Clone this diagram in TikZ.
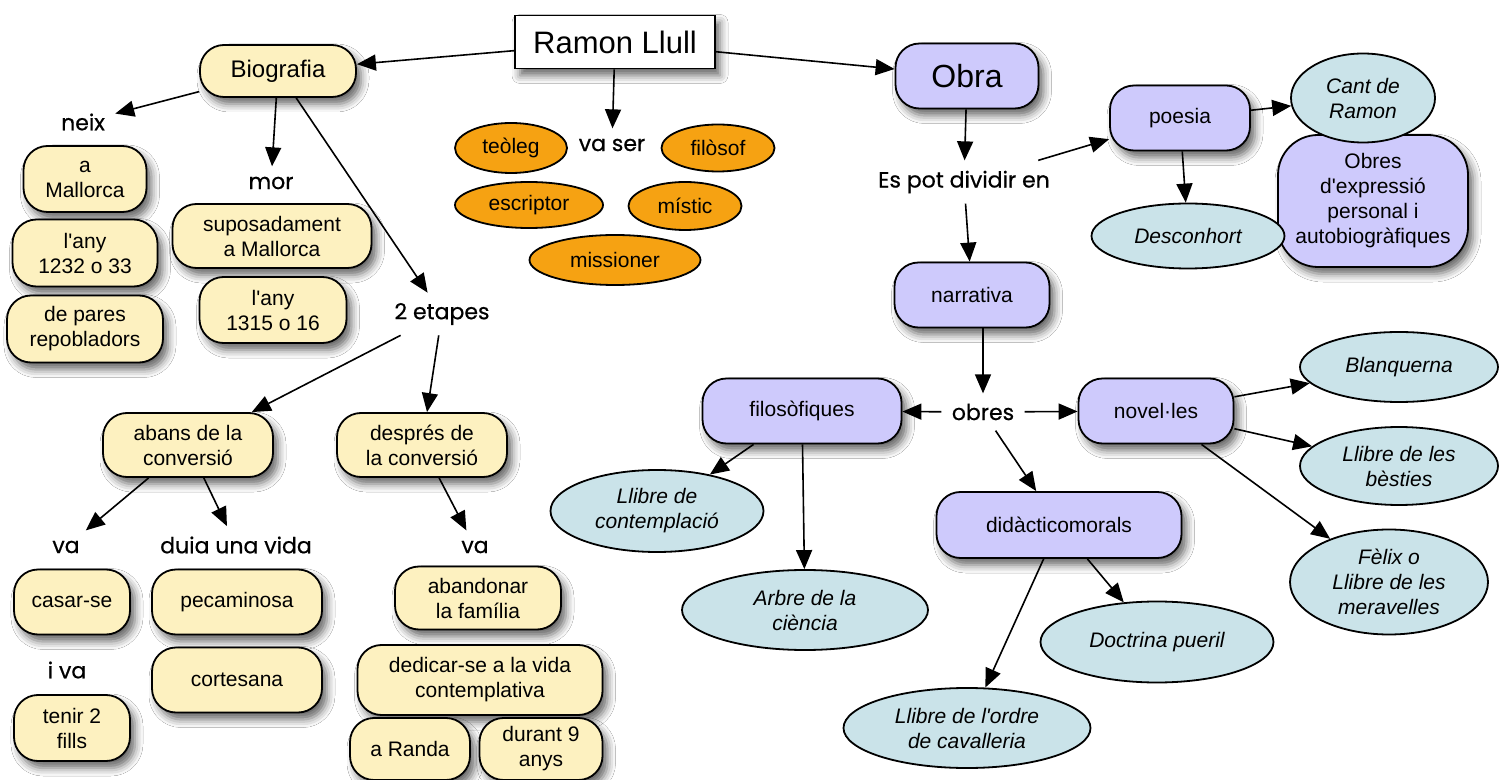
\documentclass[tikz,border=0pt]{standalone}
\usepackage{fontspec}
\setmainfont{Liberation Sans}
\newfontfamily\linkfont{Poppins}[FakeBold=0.6]
\usetikzlibrary{arrows.meta,shapes.geometric,shadows.blur}

\definecolor{bioyellow}{RGB}{253,241,192}
\definecolor{obralilac}{RGB}{206,202,252}
\definecolor{roleorange}{RGB}{246,162,18}
\definecolor{workblue}{RGB}{202,227,233}

\tikzset{
  every node/.style={align=center, inner sep=0pt},
  shade/.style={blur shadow={shadow xshift=2.5pt, shadow yshift=-3.5pt, shadow blur radius=4pt, shadow opacity=60}},
  concept/.style={draw, line width=0.9pt, rounded corners=12pt, shade, font=\fontsize{10.5}{12.5}\selectfont},
  bio/.style={concept, fill=bioyellow},
  obra/.style={concept, fill=obralilac},
  role/.style={ellipse, draw, line width=0.9pt, fill=roleorange, font=\fontsize{10.5}{12.5}\selectfont},
  work/.style={ellipse, draw, line width=0.9pt, fill=workblue, font=\itshape\fontsize{10.5}{12.5}\selectfont},
  linkword/.style={inner sep=5pt, font=\linkfont\fontsize{11}{13}\selectfont},
  arr/.style={-{Triangle[length=9.5pt,width=8pt]}, line width=0.8pt},
}

\begin{document}
\begin{tikzpicture}[x=0.5pt, y=-0.5pt]
                \fill[white] (0,0) rectangle (1510,780);
                \useasboundingbox (0,0) rectangle (1510,780);

                \node[draw, line width=0.9pt, fill=white, shade, minimum width=100pt, minimum height=26.5pt, font=\fontsize{15.5}{18}\selectfont] (ramon) at (615,42) {Ramon Llull};
                \node[bio, minimum width=78pt, minimum height=26pt, font=\fontsize{12}{14}\selectfont] (bio) at (278,71) {Biografia};
                \node[obra, minimum width=71.5pt, minimum height=32.5pt, font=\fontsize{16}{18}\selectfont] (obra) at (967,76) {Obra};

                \node[linkword] (neix) at (83,122) {neix};
                \node[bio, minimum width=61.5pt, minimum height=33pt] (mallorca) at (85,179) {a\\Mallorca};
                \node[bio, minimum width=72.5pt, minimum height=33.5pt] (any1) at (85,253) {l\textquotesingle any\\1232 o 33};
                \node[bio, minimum width=78pt, minimum height=33.5pt] (pares) at (85,329) {de pares\\repobladors};

                \node[linkword] (mor) at (271,183) {mor};
                \node[bio, minimum width=99.5pt, minimum height=32pt] (suposa) at (272,236) {suposadament\\a Mallorca};
                \node[bio, minimum width=73.5pt, minimum height=33pt] (any2) at (273,310) {l\textquotesingle any\\1315 o 16};

                \node[linkword] (etapes) at (442,314) {2 etapes};
                \node[bio, minimum width=85pt, minimum height=32pt] (abans) at (188,445) {abans de la\\conversió};
                \node[bio, minimum width=85pt, minimum height=32pt] (despres) at (422,445) {després de\\la conversió};

                \node[linkword] (va1) at (66,547) {va};
                \node[linkword] (duia) at (236,545) {duia una vida};
                \node[bio, minimum width=58pt, minimum height=32.5pt] (casar) at (72,602) {casar-se};
                \node[linkword] (iva) at (67,670) {i va};
                \node[bio, minimum width=58pt, minimum height=33pt] (tenir) at (72,728) {tenir 2\\fills};
                \node[bio, minimum width=85pt, minimum height=32.5pt] (pecam) at (237,602) {pecaminosa};
                \node[bio, minimum width=85pt, minimum height=32.5pt] (cortes) at (237,680) {cortesana};

                \node[linkword] (va2) at (475,547) {va};
                \node[bio, minimum width=83pt, minimum height=31.5pt] (abandonar) at (478,598) {abandonar\\la família};
                \node[bio, minimum width=122.5pt, minimum height=35pt] (dedicar) at (480,680) {dedicar-se a la vida\\contemplativa};
                \node[bio, minimum width=60pt, minimum height=31pt] (randa) at (410,749) {a Randa};
                \node[bio, minimum width=61.5pt, minimum height=31pt] (durant) at (541,749) {durant 9\\anys};

                \node[linkword] (vaser) at (612,145) {va ser};
                \node[role, minimum width=56pt, minimum height=25pt] (teoleg) at (511,148) {teòleg};
                \node[role, minimum width=56.5pt, minimum height=23.5pt] (filosof) at (718,148) {filòsof};
                \node[role, minimum width=74pt, minimum height=23pt] (escriptor) at (529,205) {escriptor};
                \node[role, minimum width=56.5pt, minimum height=24pt] (mistic) at (685,206) {místic};
                \node[role, minimum width=85.5pt, minimum height=25pt] (missioner) at (615,260) {missioner};

                \node[linkword] (espot) at (964,182) {Es pot dividir en};
                \node[obra, minimum width=70pt, minimum height=32.5pt] (poesia) at (1180,118) {poesia};
                \node[obra, rounded corners=20pt, minimum width=95pt, minimum height=66pt] (autobio) at (1373,201) {Obres\\d\textquotesingle expressió\\personal i\\autobiogràfiques};
                \node[work, minimum width=72pt, minimum height=44.5pt] (cant) at (1363,98) {Cant de\\Ramon};
                \node[work, minimum width=96.5pt, minimum height=32.5pt] (descon) at (1188,236) {Desconhort};
                \node[obra, minimum width=77.5pt, minimum height=32.5pt] (narrativa) at (972,295) {narrativa};

                \node[linkword] (obres) at (983,412) {obres};
                \node[obra, minimum width=99.5pt, minimum height=32.5pt] (filosofiques) at (802,411) {filosòfiques};
                \node[obra, minimum width=77.5pt, minimum height=32.5pt] (novel) at (1156,411) {novel·les};
                \node[obra, minimum width=122.5pt, minimum height=33pt] (didac) at (1059,525) {didàcticomorals};

                \node[work, minimum width=99pt, minimum height=35pt] (blanq) at (1399,367) {Blanquerna};
                \node[work, minimum width=99pt, minimum height=39pt] (besties) at (1399,466) {Llibre de les\\bèsties};
                \node[work, minimum width=99pt, minimum height=52.5pt] (felix) at (1389,582) {Fèlix o\\Llibre de les\\meravelles};
                \node[work, minimum width=106.5pt, minimum height=41pt] (contempl) at (657,511) {Llibre de\\contemplació};
                \node[work, minimum width=123pt, minimum height=40pt] (arbre) at (805,610) {Arbre de la\\ciència};
                \node[work, minimum width=116.5pt, minimum height=40.5pt] (doctrina) at (1157,642) {Doctrina pueril};
                \node[work, minimum width=123.5pt, minimum height=40pt] (ordre) at (967,728) {Llibre de l\textquotesingle ordre\\de cavalleria};

                \draw[arr] (ramon) -- (bio);
                \draw[arr] (ramon) -- (obra);
                \draw[arr] (ramon) -- (vaser);

                \draw[arr] (bio) -- (neix);
                \draw[arr] (bio) -- (mor);
                \draw[arr] (bio) -- (etapes);

                \draw[arr] (etapes) -- (abans);
                \draw[arr] (etapes) -- (despres);
                \draw[arr] (abans) -- (va1);
                \draw[arr] (abans) -- (duia);
                \draw[arr] (despres) -- (va2);

                \draw[arr] (obra) -- (espot);
                \draw[arr] ([xshift=-11pt]espot.north east) -- (poesia);
                \draw[arr] (espot) -- (narrativa);
                \draw[arr] (poesia) -- (cant);
                \draw[arr] (poesia) -- (descon);

                \draw[arr] (narrativa.south -| obres) -- (obres);
                \draw[arr] (obres) -- (filosofiques);
                \draw[arr] (obres) -- (novel);
                \draw[arr] (obres) -- (didac);

                \draw[arr] (filosofiques) -- (contempl);
                \draw[arr] (filosofiques) -- (arbre);
                \draw[arr] (novel) -- (blanq);
                \draw[arr] (novel) -- (besties);
                \draw[arr] (novel) -- (felix);
                \draw[arr] (didac) -- (doctrina);
                \draw[arr] (didac) -- (ordre);
            \end{tikzpicture}
\end{document}
